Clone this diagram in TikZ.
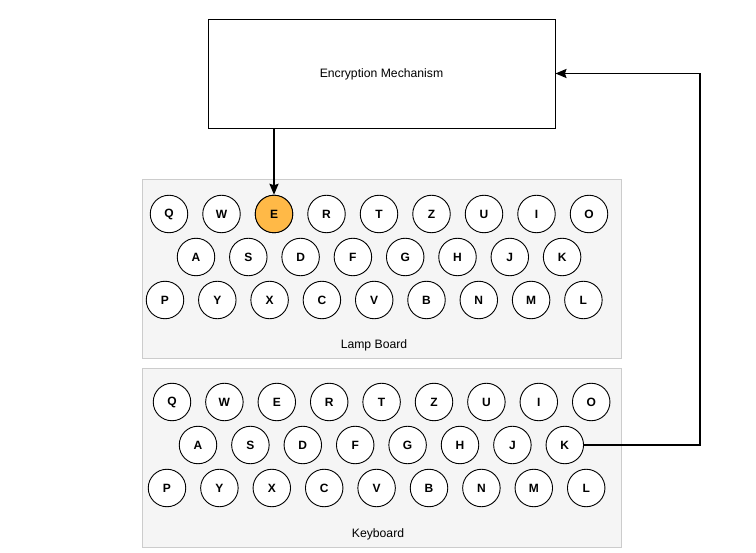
\documentclass[tikz,border=0pt]{standalone}
\usepackage{fontspec}
\setmainfont{Liberation Sans}
\usetikzlibrary{arrows.meta,calc}
\definecolor{panelfill}{RGB}{245,245,245}
\definecolor{paneldraw}{RGB}{204,204,204}
\definecolor{lampon}{RGB}{255,185,71}
\tikzset{
  panel/.style={draw=paneldraw, fill=panelfill, line width=0.9pt, minimum width=479pt, minimum height=179pt, inner sep=0pt},
  keycirc/.style={circle, draw=black, fill=white, line width=0.9pt, minimum size=37.5pt, inner sep=0pt, font=\fontsize{12}{14}\selectfont\bfseries},
  lit/.style={fill=lampon},
  encbox/.style={draw=black, fill=white, line width=0.9pt, minimum width=347pt, minimum height=109pt, inner sep=0pt, text depth=0pt, font=\fontsize{12.2}{14}\selectfont},
  lbl/.style={inner sep=0pt, font=\fontsize{12.2}{14}\selectfont},
  conn/.style={line width=1.9pt, -{Stealth[length=11pt,width=9pt,inset=1.5pt]}}
}
\begin{document}
\begin{tikzpicture}[x=1pt,y=-1pt]
\useasboundingbox (0,0) rectangle (756,553);
% encryption box
\node[encbox] (enc) at (381.5,73.5) {Encryption Mechanism};
% panels
\node[panel] (lampboard) at (381.5,268.5) {};
\node[panel] (keyboard) at (381.5,457.5) {};
\node[lbl] (lamplbl) at (374,345.5) {Lamp Board};
\node[lbl] (keylbl) at (378,534.5) {Keyboard};
% lamp board
\foreach \l [count=\i from 0] in {Q,W,E,R,T,Z,U,I,O}
  \node[keycirc] (l-\l) at (169+52.5*\i,214) {\l};
\foreach \l [count=\i from 0] in {A,S,D,F,G,H,J,K}
  \node[keycirc] (l-\l) at (196+52.3*\i,257) {\l};
\foreach \l [count=\i from 0] in {P,Y,X,C,V,B,N,M,L}
  \node[keycirc] (l-\l) at (165+52.3*\i,300) {\l};
\node[keycirc,lit] at (l-E) {E};
% keyboard
\foreach \l [count=\i from 0] in {Q,W,E,R,T,Z,U,I,O}
  \node[keycirc] (k-\l) at (172+52.4*\i,402) {\l};
\foreach \l [count=\i from 0] in {A,S,D,F,G,H,J,K}
  \node[keycirc] (k-\l) at (198+52.4*\i,445) {\l};
\foreach \l [count=\i from 0] in {P,Y,X,C,V,B,N,M,L}
  \node[keycirc] (k-\l) at (167+52.4*\i,488) {\l};
% connectors
\coordinate (turn) at (700,445);
\draw[conn] (enc.south -| l-E) -- (l-E.north);
\draw[conn] (k-K.east) -- (turn) |- (enc.east);
\end{tikzpicture}
\end{document}
